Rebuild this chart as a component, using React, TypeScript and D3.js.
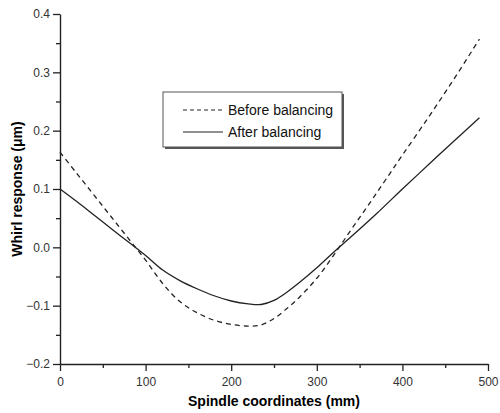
import React, { useEffect, useRef } from "react";
import * as d3 from "d3";

// spindle coordinate (mm) samples
const beforeX = [0, 20, 40, 60, 80, 100, 120, 140, 160, 180, 200, 220, 235, 250, 265, 280, 300, 320, 340, 360, 380, 400, 430, 460, 490];
const beforeY = [0.163, 0.126, 0.089, 0.052, 0.015, -0.022, -0.062, -0.093, -0.112, -0.125, -0.132, -0.135, -0.133, -0.122, -0.105, -0.085, -0.053, -0.013, 0.030, 0.072, 0.115, 0.158, 0.222, 0.288, 0.357];

const afterX = [0, 20, 40, 60, 80, 100, 120, 140, 160, 180, 200, 220, 235, 250, 265, 280, 300, 320, 340, 370, 400, 430, 460, 490];
const afterY = [0.1, 0.078, 0.055, 0.032, 0.009, -0.014, -0.039, -0.057, -0.071, -0.083, -0.092, -0.097, -0.098, -0.091, -0.077, -0.060, -0.035, -0.008, 0.018, 0.058, 0.100, 0.141, 0.182, 0.222];

const xTicks = [0, 100, 200, 300, 400, 500];
const yTicks = [-0.2, -0.1, 0.0, 0.1, 0.2, 0.3, 0.4];
const legendLabels = ["Before balancing", "After balancing"];

const FONT = "Arial, 'Liberation Sans', sans-serif";

export default function App() {
  const ref = useRef<SVGSVGElement>(null);

  useEffect(() => {
    const svg = d3.select(ref.current);
    svg.selectAll("*").remove();

    const x = d3.scaleLinear().domain([0, 500]).range([60, 488]);
    const y = d3.scaleLinear().domain([-0.2, 0.4]).range([364, 14]);

    // minor ticks
    svg.append("g")
      .attr("transform", "translate(0,364)")
      .call(d3.axisBottom(x).tickValues(d3.range(50, 500, 100)).tickSize(4).tickFormat(() => ""))
      .call(g => g.select(".domain").remove());
    svg.append("g")
      .attr("transform", "translate(60,0)")
      .call(d3.axisLeft(y).tickValues(d3.range(-0.15, 0.4, 0.1)).tickSize(4).tickFormat(() => ""))
      .call(g => g.select(".domain").remove());

    const xAxis = svg.append("g")
      .attr("transform", "translate(0,364)")
      .call(d3.axisBottom(x).tickValues(xTicks).tickSize(7).tickSizeOuter(0).tickPadding(6).tickFormat(d3.format("d")));
    const yAxis = svg.append("g")
      .attr("transform", "translate(60,0)")
      .call(d3.axisLeft(y).tickValues(yTicks).tickSize(7).tickSizeOuter(0).tickPadding(3).tickFormat(d3.format(".1f")));

    [xAxis, yAxis].forEach(a => {
      a.selectAll("text").attr("font-family", FONT).attr("font-size", 12).attr("fill", "#333");
      a.select(".domain").attr("stroke", "#222").attr("stroke-width", 1.4);
    });
    svg.selectAll("g line").attr("stroke", "#222").attr("stroke-width", 1.3);

    const line = d3.line<[number, number]>()
      .x(d => x(d[0]))
      .y(d => y(d[1]))
      .curve(d3.curveCatmullRom.alpha(0.5));

    svg.append("path")
      .attr("d", line(beforeX.map((v, i) => [v, beforeY[i]] as [number, number])))
      .attr("fill", "none")
      .attr("stroke", "#222")
      .attr("stroke-width", 1.3)
      .attr("stroke-dasharray", "5,4");

    svg.append("path")
      .attr("d", line(afterX.map((v, i) => [v, afterY[i]] as [number, number])))
      .attr("fill", "none")
      .attr("stroke", "#222")
      .attr("stroke-width", 1.3);

    // legend
    const lg = svg.append("g");
    lg.append("rect").attr("x", 165).attr("y", 94).attr("width", 179).attr("height", 55).attr("fill", "#555");
    lg.append("rect").attr("x", 163).attr("y", 92).attr("width", 179).attr("height", 55)
      .attr("fill", "white").attr("stroke", "#555").attr("stroke-width", 1);
    legendLabels.forEach((t, i) => {
      const yy = 110 + i * 22;
      lg.append("line").attr("x1", 183).attr("x2", 223).attr("y1", yy).attr("y2", yy)
        .attr("stroke", "#222").attr("stroke-width", 1.2)
        .attr("stroke-dasharray", i === 0 ? "4,3" : null);
      lg.append("text").attr("x", 228).attr("y", yy).attr("dy", "0.35em")
        .attr("font-family", FONT).attr("font-size", 14).attr("fill", "#111").text(t);
    });

    svg.append("text")
      .attr("x", 274).attr("y", 406)
      .attr("text-anchor", "middle")
      .attr("font-family", FONT).attr("font-size", 14).attr("font-weight", "bold")
      .text("Spindle coordinates (mm)");

    svg.append("text")
      .attr("transform", "translate(22,189) rotate(-90)")
      .attr("text-anchor", "middle")
      .attr("font-family", FONT).attr("font-size", 14).attr("font-weight", "bold")
      .text("Whirl response (μm)");
  }, []);

  return (
    <svg ref={ref} width={500} height={413}
      style={{ position: "absolute", left: 0, top: 0, background: "white" }} />
  );
}
